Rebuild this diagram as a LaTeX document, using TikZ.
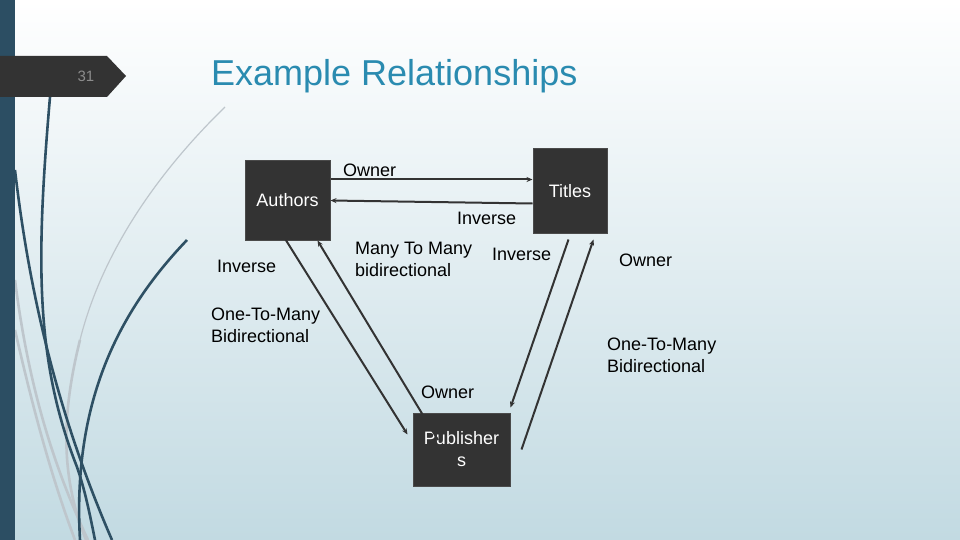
\documentclass[tikz,border=0pt]{standalone}
\usepackage{fontspec}
\setmainfont{Liberation Sans}
\usetikzlibrary{arrows.meta,calc}
\definecolor{bgbottom}{RGB}{194,218,226}
\definecolor{barblue}{HTML}{2C4E63}
\definecolor{tabgray}{HTML}{333333}
\definecolor{numgray}{HTML}{8C8C8C}
\definecolor{titleblue}{HTML}{2A8BB0}
\definecolor{boxfill}{HTML}{333333}
\definecolor{boxedge}{HTML}{4A4A4A}
\definecolor{connc}{HTML}{333333}
\definecolor{curvedark}{HTML}{2E5064}
\definecolor{curvelight}{HTML}{BEC6CC}
\begin{document}
\begin{tikzpicture}[x=1pt,y=-1pt,
  entity/.style={draw=boxedge,line width=1pt,fill=boxfill,text=white,
    font=\fontsize{18}{22}\selectfont,inner sep=0pt,align=center},
  lbl/.style={anchor=west,inner sep=0pt,font=\fontsize{18}{22}\selectfont,align=left},
  conn/.style={draw=connc,line width=2pt},
  tip/.style={-{Stealth[length=6pt,width=5pt]}},
  dcurve/.style={draw=curvedark,line width=2.6pt},
  lcurve/.style={draw=curvelight,line width=2.6pt}]
\useasboundingbox (0,0) rectangle (960,540);
\shade[top color=white,bottom color=bgbottom] (0,0) rectangle (960,540);
% decorative curves
\draw[lcurve,line width=1.2pt] (225,107) .. controls (150,180) and (100,260) .. (80,340);
\draw[lcurve] (80,340) .. controls (60,420) and (62,480) .. (86,540);
\draw[lcurve] (15,280) .. controls (30,400) and (60,480) .. (88,540);
\draw[lcurve] (15,330) .. controls (40,440) and (60,500) .. (75,540);
\draw[dcurve] (50,97) .. controls (36,260) and (35,360) .. (77,467) .. controls (85,490) and (90,515) .. (95,540);
\draw[dcurve] (15,170) .. controls (30,300) and (60,420) .. (112,540);
\draw[dcurve] (187,240) .. controls (120,310) and (72,400) .. (80,540);
% left bar and tab
\fill[barblue] (0,0) rectangle (15,540);
\fill[tabgray] (0,56) -- (107,56) -- (126,76) -- (107,97) -- (0,97) -- cycle;
\node[text=numgray,font=\fontsize{15}{18}\selectfont] (num) at (86,76) {31};
\node[anchor=west,inner sep=0pt,text=titleblue,font=\fontsize{36}{42}\selectfont] (title) at (211,76) {Example Relationships};
% entities
\node[entity,minimum width=85pt,minimum height=79pt] (authors) at (287.5,200.5) {Authors};
\node[entity,minimum width=74pt,minimum height=84pt] (titles) at (570,191) {Titles};
\node[entity,minimum width=97pt,minimum height=73pt] (pub) at (461.5,449.5) {Publisher\\s};
% connectors
\draw[conn,tip] ($(authors.north east)+(0,19)$) -- ($(titles.north west)+(0,31)$);
\draw[conn,tip] ($(titles.north west)+(0,55)$) -- ($(authors.north east)+(0,40)$);
\draw[conn,tip] ($(authors.south west)+(41,-1)$) -- ($(pub.north west)+(-5,22)$);
\draw[conn,tip] ($(pub.north west)+(25.5,27.5)$) -- ($(authors.south west)+(73,0)$);
\draw[conn,tip] ($(titles.south west)+(36,6)$) -- ($(pub.north east)+(0,-5)$);
\draw[conn,tip] ($(pub.north east)+(11,37)$) -- ($(titles.south west)+(61,6)$);
% labels
\node[lbl] (l1) at (343,170) {Owner};
\node[lbl] (l2) at (457,218) {Inverse};
\node[lbl] (l3) at (217,266) {Inverse};
\node[lbl] (l4) at (355,259) {Many To Many\\bidirectional};
\node[lbl] (l5) at (492,254) {Inverse};
\node[lbl] (l6) at (619,260) {Owner};
\node[lbl] (l7) at (211,325.5) {One-To-Many\\Bidirectional};
\node[lbl] (l8) at (607,355.5) {One-To-Many\\Bidirectional};
\node[lbl] (l9) at (421,392) {Owner};
\end{tikzpicture}
\end{document}
